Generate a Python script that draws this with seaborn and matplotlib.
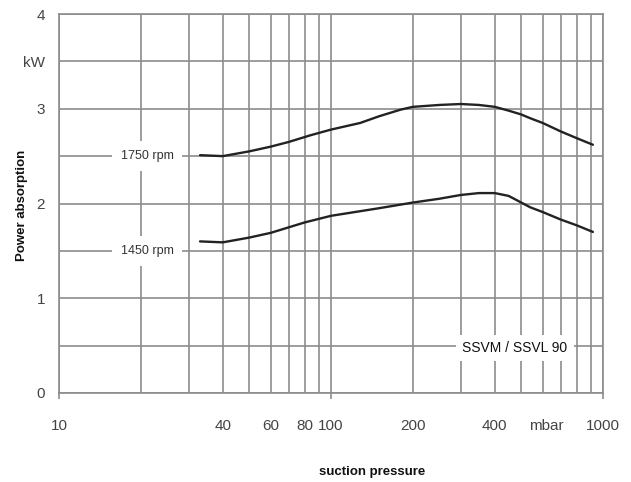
import numpy as np
import pandas as pd
import matplotlib
matplotlib.use("Agg")
import matplotlib.pyplot as plt
import matplotlib.transforms as mtransforms
import seaborn as sns

# ---- data ----
p_1750 = [33, 40, 50, 60, 70, 84, 100, 128, 150, 180, 200, 250, 300, 350, 400, 450, 500, 540, 600, 700, 800, 918]
kw_1750 = [2.51, 2.50, 2.55, 2.60, 2.65, 2.72, 2.78, 2.85, 2.92, 2.99, 3.02, 3.04, 3.05, 3.04, 3.02, 2.98, 2.94, 2.90, 2.85, 2.76, 2.69, 2.62]
p_1450 = [33, 40, 50, 60, 80, 100, 150, 200, 250, 300, 350, 400, 450, 540, 600, 700, 800, 918]
kw_1450 = [1.60, 1.59, 1.64, 1.69, 1.80, 1.87, 1.95, 2.01, 2.05, 2.09, 2.11, 2.11, 2.08, 1.96, 1.91, 1.83, 1.77, 1.70]
series_names = ["1750 rpm", "1450 rpm"]

x_grid = [10, 20, 30, 40, 50, 60, 70, 80, 90, 100, 200, 300, 400, 500, 600, 700, 800, 900, 1000]
x_labeled = {10: "10", 40: "40", 60: "60", 80: "80", 100: "100", 200: "200", 400: "400", 1000: "1000"}
unit_pos = 620
unit_txt = "mbar"
y_tick_pos = [0, 0.5, 1, 1.5, 2, 2.5, 3, 3.5, 4]
y_tick_txt = ["0", "", "1", "", "2", "", "3", "kW", "4"]
x_major_marks = [10, 100, 1000]

df = pd.concat([
    pd.DataFrame({"p": p_1750, "kw": kw_1750, "speed": series_names[0]}),
    pd.DataFrame({"p": p_1450, "kw": kw_1450, "speed": series_names[1]}),
])

sns.set_theme(style="white")
plt.rcParams["font.family"] = ["Liberation Sans", "DejaVu Sans"]

fig = plt.figure(figsize=(6.31, 4.82), dpi=100)
ax = fig.add_axes([59 / 631, 1 - 393 / 482, (603 - 59) / 631, (393 - 14) / 482])

grid_col = "#8c8c8c"
sns.lineplot(data=df, x="p", y="kw", hue="speed", palette=["#222222", "#222222"],
             linewidth=1.7, legend=False, ax=ax, zorder=5, sort=True)

ax.set_xscale("log")
ax.set_xlim(10, 1000)
ax.set_ylim(0, 4)

ax.xaxis.set_minor_locator(matplotlib.ticker.NullLocator())
ax.set_xticks(x_grid)
ax.set_xticklabels([x_labeled.get(v, "") for v in x_grid])
ax.xaxis.grid(True, which="major", color=grid_col, linewidth=1.2)
ax.tick_params(axis="x", which="both", length=0, pad=19, labelsize=11, labelcolor="#444444")

ax.set_yticks(y_tick_pos)
ax.set_yticklabels(y_tick_txt)
ax.yaxis.grid(True, color=grid_col, linewidth=1.2)
ax.tick_params(axis="y", length=4, width=1, color=grid_col, pad=6, labelsize=11, labelcolor="#444444")
ax.set_xlabel("")
ax.set_ylabel("")

for s in ax.spines.values():
    s.set_color(grid_col)
    s.set_linewidth(1.2)

trans = mtransforms.blended_transform_factory(ax.transData, ax.transAxes)
unit_trans = trans + mtransforms.ScaledTranslation(0, -19 / 72, fig.dpi_scale_trans)
ax.text(unit_pos, 0, unit_txt, transform=unit_trans, ha="center", va="top", fontsize=11,
        color="#444444")
ax.vlines(x_major_marks, -0.015, 0, transform=trans, color=grid_col, linewidth=1.2, clip_on=False)

box = dict(boxstyle="square,pad=0.7", facecolor="white", edgecolor="none")
ax.text(21.1, 2.5, series_names[0], ha="center", va="center", fontsize=9, color="#333333",
        bbox=box, zorder=4)
ax.text(21.1, 1.5, series_names[1], ha="center", va="center", fontsize=9, color="#333333",
        bbox=box, zorder=4)
ax.text(474, 0.475, "SSVM / SSVL 90", ha="center", va="center", fontsize=10, color="#111111",
        bbox=dict(boxstyle="square,pad=0.45", facecolor="white", edgecolor="none"), zorder=4)

fig.text(22 / 631, 1 - 205 / 482, "Power absorption", rotation=90, ha="center", va="center",
         fontsize=9.5, fontweight="bold", color="#111111")
fig.text(372 / 631, 1 - 472 / 482, "suction pressure", ha="center", va="center",
         fontsize=9.5, fontweight="bold", color="#111111")

fig.savefig("out.png", dpi=100, facecolor="white")
